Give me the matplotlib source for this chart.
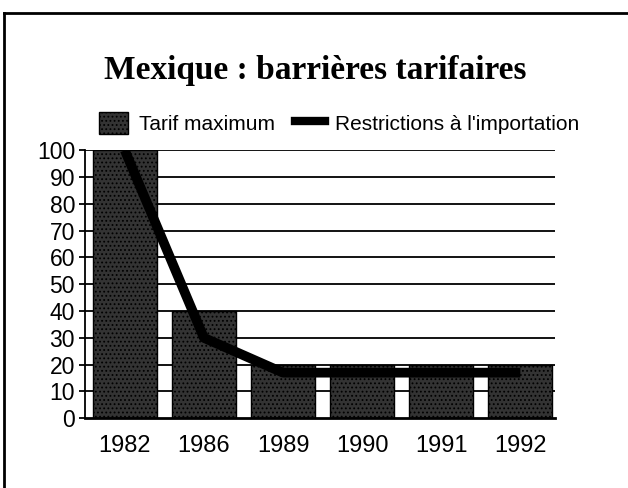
import matplotlib.pyplot as plt
from matplotlib.lines import Line2D
from matplotlib.patches import Patch

years = ["1982", "1986", "1989", "1990", "1991", "1992"]
tarif_max = [100, 40, 20, 20, 20, 20]
restrictions = [100, 30, 17, 17, 17, 17]
yticks = list(range(0, 101, 10))

plt.rcParams['font.family'] = ['Liberation Sans', 'DejaVu Sans']
plt.rcParams['hatch.color'] = '#9a9a9a'
plt.rcParams['hatch.linewidth'] = 0.8

fig = plt.figure(figsize=(6.28, 4.88), dpi=100)
ax = fig.add_axes([0.135, 0.143, 0.749, 0.549])

x = list(range(len(years)))

# gridlines behind the bars
for v in yticks[1:]:
    ax.axhline(v, color='black', lw=1.3, zorder=0)

ax.bar(x, tarif_max, width=0.81, color='#333333', edgecolor='black',
       hatch='....', lw=1.0, zorder=2)
ax.plot(x, restrictions, color='black', lw=7, solid_capstyle='butt', zorder=3)

ax.set_xlim(-0.506, 5.44)
ax.set_ylim(0, 100)
ax.set_yticks(yticks)
ax.set_xticks(x)
ax.set_xticklabels(years)
ax.tick_params(axis='x', length=0, pad=12, labelsize=17)
ax.tick_params(axis='y', length=4, width=1.3, pad=3, labelsize=16.5)
for s in ['top', 'right']:
    ax.spines[s].set_visible(False)
ax.spines['left'].set_linewidth(1.3)
ax.spines['bottom'].set_linewidth(2)

fig.text(0.502, 0.856, "Mexique : barrières tarifaires", ha='center', va='center',
         fontsize=24, fontweight='bold', family='Liberation Serif')

handles = [Patch(facecolor='#333333', edgecolor='black', hatch='....'),
           Line2D([0], [0], color='black', lw=6)]
fig.legend(handles, ["Tarif maximum", "Restrictions à l'importation"],
           loc='center', bbox_to_anchor=(0.54, 0.748), ncol=2, frameon=False,
           fontsize=15, handlelength=1.4, handleheight=1.3, columnspacing=1.0,
           handletextpad=0.5, borderpad=0)

# outer frame (left and top edges only visible)
fig.add_artist(Line2D([0.007, 0.007], [0, 0.974], color='black', lw=2))
fig.add_artist(Line2D([0.007, 1.0], [0.974, 0.974], color='black', lw=2))

fig.savefig("out.png", dpi=100)
